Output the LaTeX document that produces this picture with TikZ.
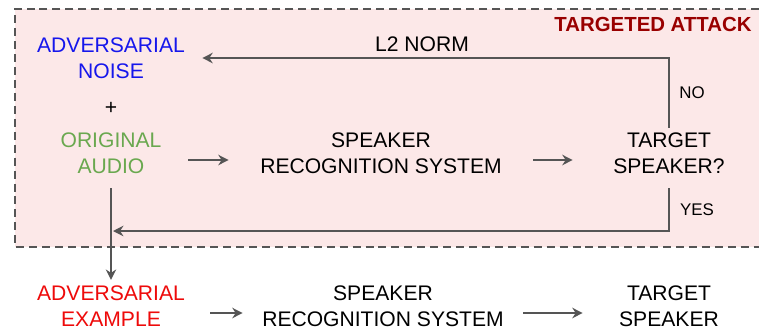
\documentclass[tikz,border=0pt]{standalone}
\usepackage{fontspec}
\setmainfont{Liberation Sans}
\usepackage{xcolor}
\usetikzlibrary{arrows.meta}
\definecolor{advblue}{RGB}{22,22,236}
\definecolor{origgreen}{RGB}{106,168,79}
\definecolor{advred}{RGB}{238,10,10}
\definecolor{attackred}{RGB}{153,0,0}
\definecolor{attackpink}{RGB}{252,232,232}
\definecolor{linegray}{RGB}{85,85,85}
\tikzset{
	stage/.style = {
		align = center,
		inner xsep = 0pt,
		font = \fontsize{15}{18.5}\selectfont,
	},
	flowarrow/.style = {
		draw = linegray,
		line width = 1.4pt,
		-{Stealth[length=2.6mm,width=2.6mm]},
	},
	branch/.style = {
		font = \fontsize{12}{14}\selectfont,
	}
}

\begin{document}
\begin{tikzpicture}[x = 0.025cm, y = -0.025cm]
	\useasboundingbox (0,0) rectangle (759,331);
	\clip (0,0) rectangle (759,331);
	\fill[white] (0,0) rectangle (759,331);
	% the attack frame runs off the right edge
	\fill[attackpink] (15,9) rectangle (759,247);
	\draw[draw = linegray, line width = 1.4pt, dash pattern = on 5.7pt off 3.5pt] (759,9) -- (15,9) -- (15,247) -- (759,247);
	\node[font = \bfseries\fontsize{14.5}{16}\selectfont, text = attackred](attack) at (653,24){TARGETED ATTACK};

	\node[stage, text = advblue, minimum width = 4.55cm](noise) at (111,58){ADVERSARIAL\\NOISE};
	\node[stage](plus) at (111,108){+};
	\node[stage, text = origgreen, minimum width = 3.85cm](audio) at (111,153){ORIGINAL\\AUDIO};
	\node[stage, minimum width = 7.6cm](srs) at (381,153){SPEAKER\\RECOGNITION SYSTEM};
	\node[stage, minimum width = 4.8cm](target) at (669,153){TARGET\\SPEAKER?};

	\node[stage, text = advred, minimum width = 4.95cm](example) at (111,306){ADVERSARIAL\\EXAMPLE};
	\node[stage, minimum width = 7cm](srsout) at (383,306){SPEAKER\\RECOGNITION SYSTEM};
	\node[stage, minimum width = 4.3cm](targetout) at (669,306){TARGET\\SPEAKER};

	\node[stage](norm) at (422,44){L2 NORM};
	\node[branch](no) at (692,93){NO};
	\node[branch](yes) at (697,210){YES};
	\coordinate (join) at (113,231);

	\draw[flowarrow]([yshift = -1.75mm]audio.east)--([yshift = -1.75mm]srs.west);
	\draw[flowarrow]([yshift = -1.75mm]srs.east)--([yshift = -1.75mm]target.west);
	\draw[flowarrow](target.north) |- (noise.east);
	\draw[flowarrow, shorten <= 2.5mm](target.south) |- (join);
	\draw[flowarrow, shorten <= 2.5mm, shorten >= 0.2mm](audio.south)--(example.north);
	\draw[flowarrow]([yshift = -1.75mm]example.east)--([yshift = -1.75mm]srsout.west);
	\draw[flowarrow]([yshift = -1.75mm]srsout.east)--([yshift = -1.75mm]targetout.west);
\end{tikzpicture}
\end{document}
